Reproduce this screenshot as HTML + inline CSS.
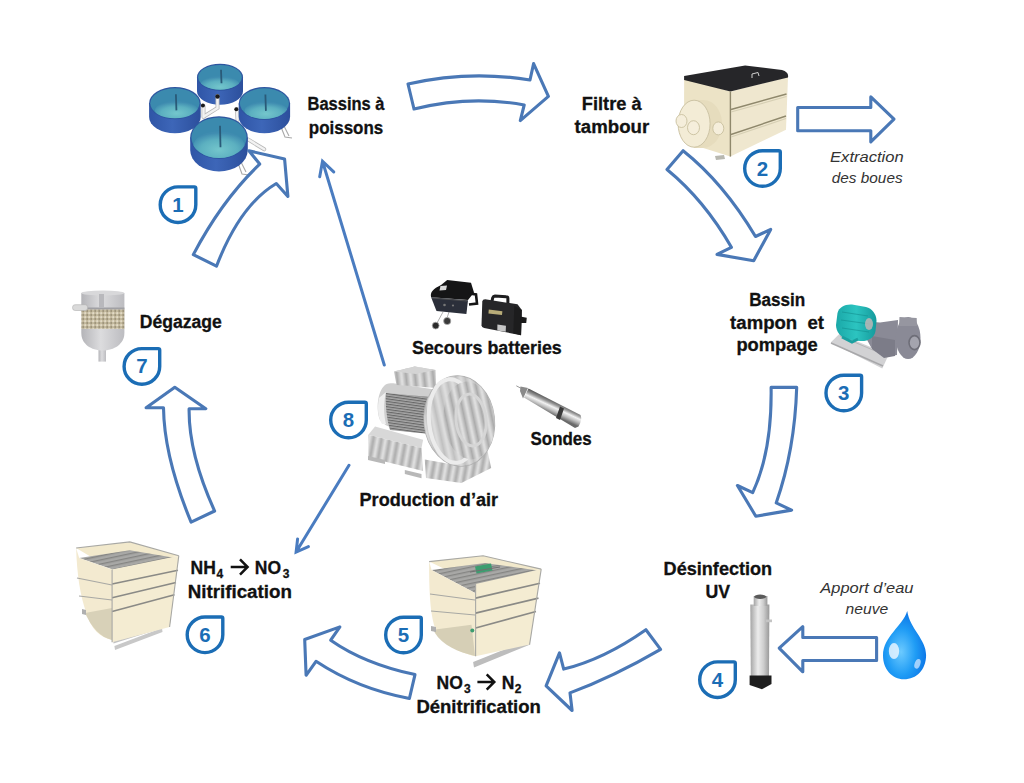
<!DOCTYPE html>
<html><head><meta charset="utf-8">
<style>
html,body{margin:0;padding:0;background:#fff;width:1024px;height:783px;overflow:hidden}
svg{position:absolute;left:0;top:0;display:block}
.t{font-family:"Liberation Sans",sans-serif;font-weight:bold;font-size:17.5px;fill:#111;stroke:#111;stroke-width:0.3px}
.it{font-family:"Liberation Sans",sans-serif;font-style:italic;font-size:14.5px;fill:#333}
.bn{font-family:"Liberation Sans",sans-serif;font-weight:bold;font-size:20.5px;fill:#1b6db5}
.ar{fill:#fff;stroke:#4a78b6;stroke-width:3.1;stroke-linejoin:round}
.bd{fill:none;stroke:#1b6db5;stroke-width:3.4}
</style></head><body>
<svg width="1024" height="783" viewBox="0 0 1024 783">
<defs>
<linearGradient id="tb" x1="0" x2="1" y1="0" y2="0"><stop offset="0" stop-color="#2f55a6"/><stop offset="0.45" stop-color="#3d66b8"/><stop offset="1" stop-color="#2c4f9c"/></linearGradient>
<radialGradient id="tw" cx="0.5" cy="0.65" r="0.6"><stop offset="0" stop-color="#74c6cc"/><stop offset="0.6" stop-color="#5cb0c0"/><stop offset="1" stop-color="#3f8cb0"/></radialGradient>
<radialGradient id="drop" cx="0.42" cy="0.6" r="0.62"><stop offset="0" stop-color="#6ccaff"/><stop offset="0.55" stop-color="#1f9cf5"/><stop offset="1" stop-color="#0a72e6"/></radialGradient>
<linearGradient id="uv" x1="0" x2="1"><stop offset="0" stop-color="#a4a4a4"/><stop offset="0.4" stop-color="#ececec"/><stop offset="0.7" stop-color="#cdcdcd"/><stop offset="1" stop-color="#989898"/></linearGradient>
<linearGradient id="probe" gradientUnits="userSpaceOnUse" x1="557" y1="401" x2="551" y2="414"><stop offset="0" stop-color="#454545"/><stop offset="0.3" stop-color="#9a9a9a"/><stop offset="0.5" stop-color="#f2f2f2"/><stop offset="0.75" stop-color="#b8b8b8"/><stop offset="1" stop-color="#6a6a6a"/></linearGradient>
<linearGradient id="teal" x1="0" x2="1"><stop offset="0" stop-color="#1aa8a8"/><stop offset="0.5" stop-color="#2cc4c0"/><stop offset="1" stop-color="#159a9c"/></linearGradient>
</defs>

<!-- FISH TANKS -->
<g id="tanks">
<clipPath id="c1"><ellipse cx="220" cy="77.2" rx="22" ry="12.5"/></clipPath>
<path d="M197.0,77.2 L197.0,91.2 A23,13.5 0 0 0 243.0,91.2 L243.0,77.2 Z" fill="url(#tb)"/>
<ellipse cx="220" cy="77.2" rx="23" ry="13.5" fill="#2e55a0"/>
<ellipse cx="220" cy="77.2" rx="21.8" ry="12.3" fill="#3b8aae"/>
<ellipse clip-path="url(#c1)" cx="220" cy="84.5" rx="19.5" ry="8.2" fill="url(#tw)"/>
<path d="M221.0,69.8 L221.5,83.3" stroke="#2a5a78" stroke-width="1.8"/>
<g stroke="#b8b8b8" stroke-width="4" fill="none" stroke-linecap="round">
<path d="M217.5,96 L217.5,108 L204.7,116"/><path d="M203.5,106 L203.5,117"/><path d="M237,109 L237.5,120"/><path d="M248.4,139.6 L264.2,149.3"/>
</g>
<g stroke="#f2f2f2" stroke-width="2.4" fill="none" stroke-linecap="round">
<path d="M217.5,96 L217.5,108 L204.7,116"/><path d="M203.5,106 L203.5,117"/><path d="M237,109 L237.5,120"/><path d="M248.4,139.6 L264.2,149.3"/>
</g>
<g stroke="#a8a8a8" stroke-width="1.1" fill="none"><path d="M281,127 L285,137 L292,138 M284,126 L289,136"/><path d="M238,163 L242,174 L249,175 M241,162 L246,172"/></g>
<g fill="#1a1a1a"><circle cx="217.5" cy="96.5" r="2.2"/><circle cx="202.9" cy="105.6" r="2"/><circle cx="236.3" cy="109.3" r="2"/></g>
<clipPath id="c2"><ellipse cx="174.9" cy="103.2" rx="24.8" ry="15.100000000000001"/></clipPath>
<path d="M149.1,103.2 L149.1,117.1 A25.8,16.1 0 0 0 200.7,117.1 L200.7,103.2 Z" fill="url(#tb)"/>
<ellipse cx="174.9" cy="103.2" rx="25.8" ry="16.1" fill="#2e55a0"/>
<ellipse cx="174.9" cy="103.2" rx="24.6" ry="14.9" fill="#3b8aae"/>
<ellipse clip-path="url(#c2)" cx="176.5" cy="110.5" rx="21.5" ry="9.5" fill="url(#tw)"/>
<path d="M175.9,94.3 L176.4,110.4" stroke="#2a5a78" stroke-width="1.8"/>
<clipPath id="c3"><ellipse cx="264.4" cy="103.5" rx="24.7" ry="15.399999999999999"/></clipPath>
<path d="M238.7,103.5 L238.7,116.8 A25.7,16.4 0 0 0 290.1,116.8 L290.1,103.5 Z" fill="url(#tb)"/>
<ellipse cx="264.4" cy="103.5" rx="25.7" ry="16.4" fill="#2e55a0"/>
<ellipse cx="264.4" cy="103.5" rx="24.5" ry="15.2" fill="#3b8aae"/>
<ellipse clip-path="url(#c3)" cx="266" cy="111" rx="21.5" ry="9.5" fill="url(#tw)"/>
<path d="M265.4,94.5 L265.9,110.9" stroke="#2a5a78" stroke-width="1.8"/>
<clipPath id="c4"><ellipse cx="219" cy="137.6" rx="27.8" ry="20.4"/></clipPath>
<path d="M190.2,137.6 L190.2,150.1 A28.8,21.4 0 0 0 247.8,150.1 L247.8,137.6 Z" fill="url(#tb)"/>
<ellipse cx="219" cy="137.6" rx="28.8" ry="21.4" fill="#2e55a0"/>
<ellipse cx="219" cy="137.6" rx="27.6" ry="20.2" fill="#3b8aae"/>
<ellipse clip-path="url(#c4)" cx="219" cy="145.5" rx="25.5" ry="14" fill="url(#tw)"/>
<path d="M220.0,125.8 L220.5,147.2" stroke="#2a5a78" stroke-width="1.8"/>
</g>
<!-- DRUM FILTER -->
<g id="drum">
<path d="M684.1,78 L730.4,91.5 L730.4,156.6 L700,147 L684.1,138 Z" fill="#ece3c6"/>
<path d="M730.4,91.5 L788,77 L786,129.7 L730.4,156.6 Z" fill="#efe7cf"/>
<path d="M684.1,76.1 L745.1,65.4 L782,70 Q789,72 788,77.4 L730.4,91.5 L684.1,80.1 Z" fill="#262629"/>
<path d="M752,78 L752,74 L758,72.5 L759,76" stroke="#cfcfcf" stroke-width="1" fill="none"/>
<g stroke="#8f886c" stroke-width="1.4" fill="none"><path d="M731,109.5 L786.5,94"/><path d="M731,134.5 L786,116"/><path d="M730.4,91.5 L730.4,156.6"/></g>
<g stroke="#d6cfb4" stroke-width="1.2" fill="none"><path d="M731,112 L786.5,96.5"/><path d="M731,137 L786,118.5"/></g>
<path d="M715,156 L724,155 L725,159 L716,160 Z" fill="#b8b8b0"/>
<path d="M694,100 L703,100 C715,100 722,112 722,124 C722,137 713,148 703,148 L694,148 Z" fill="#e6dcbd"/>
<ellipse cx="694.1" cy="123.7" rx="16" ry="23.5" fill="#f3ecd6" stroke="#cdc4a5" stroke-width="1"/>
<g fill="#f5eedb" stroke="#c8bf9e" stroke-width="0.9"><ellipse cx="681.5" cy="121" rx="5.5" ry="6.5"/><ellipse cx="693.5" cy="127.7" rx="6" ry="7"/><ellipse cx="718.3" cy="128.4" rx="5.5" ry="6.5"/></g>
</g>
<!-- PUMP -->
<g id="pump">
<path d="M830.7,342.6 L839.3,334 L888.8,354.5 L882.3,368.4 Z" fill="#d2d2d4"/>
<path d="M831,343 L883,366" stroke="#a8a8aa" stroke-width="1.5"/>
<path d="M840,336 L887,356" stroke="#b5b5b8" stroke-width="1"/>
<path d="M866,321.5 L880,322.5 L898,320 L897,355 L884,357 L871.5,348 L866,338 Z" fill="#8a8a96"/><path d="M872,336 L895,340 L895,356 L884,358 L872,349 Z" fill="#7c7c88"/>
<ellipse cx="908.1" cy="338" rx="12.4" ry="21" fill="#8a8a96"/>
<path d="M899.5,316.9 L916.7,318 L917,326 L899,326 Z" fill="#9696a0"/>
<ellipse cx="914.5" cy="342.6" rx="5.5" ry="7" fill="#a4a4ae" stroke="#6e6e78" stroke-width="1.6"/>
<path d="M837.5,313 C839,307 845,304 852,304.5 L866,307 C872,308.5 876.5,314 876.5,321 L875.5,331 C874.5,338 868,341.5 860,341 L848,339.5 C841,338 836,332 836,325 Z" fill="url(#teal)"/><path d="M842,312 L868,316 M841,320 L870,324 M842,328 L869,332" stroke="#139090" stroke-width="1" opacity="0.6"/>
<ellipse cx="869" cy="324" rx="4" ry="6" fill="#c8b8b8" opacity="0.8"/>
<path d="M842,337 L852,342 L858,339" stroke="#1aa0a0" stroke-width="3" fill="none"/>
</g>
<!-- UV LAMP -->
<g id="uvlamp">
<path d="M750.3,604.4 L769.4,604.4 L769,677 L750.8,677 Z" fill="url(#uv)"/>
<rect x="753.7" y="596" width="13.7" height="10" fill="url(#uv)"/>
<ellipse cx="760.2" cy="596.8" rx="6" ry="2.2" fill="#5a5a5a"/>
<path d="M749.6,675.5 L771.5,675.5 L771.5,684 L762,689.2 L749.6,685 Z" fill="#1e1e1e"/>
<rect x="766" y="619.5" width="6" height="2.7" fill="#c4c4c4"/>
</g>

<!-- WATER DROP -->
<path id="drop" d="M907.2,610.9 C903,626 883,636 883,655.5 C883,669 892,679.3 904,679.3 C916.5,679.3 926.1,670 926.1,655 C926.1,639 910,629 907.2,610.9 Z" fill="url(#drop)"/>
<ellipse cx="894" cy="651.1" rx="5.2" ry="8" fill="#e8f4ff" opacity="0.85"/>
<ellipse cx="917.5" cy="663.8" rx="2.8" ry="5" transform="rotate(20 917.5 663.8)" fill="#cfe6ff" opacity="0.75"/>

<!-- DENITRIFICATION TANK -->
<pattern id="grate" width="4" height="4" patternUnits="userSpaceOnUse" patternTransform="rotate(-12)"><rect width="4" height="4" fill="#a8a8a6"/><rect width="4" height="1.3" fill="#858583"/></pattern>
<g id="denit">
<path d="M473.1,662 L528,640 L529,645 L474,667.5 Z" fill="#bdbdbd"/><path d="M527.5,570 L530.5,570 L530,645 L527,645 Z" fill="#c4c4c4"/>
<path d="M429.1,561.6 L483.1,555.8 L541.2,569.1 L475.6,584 Z" fill="#f2e9cc"/>
<path d="M431.6,569.9 L484.8,563 L537.9,570.5 L475.6,593.2 Z" fill="url(#grate)"/>
<path d="M475,566.5 L491,563.5 L492.5,570.5 L476.5,573.5 Z" fill="#3d9d70"/><path d="M470,572 L500,567" stroke="#707070" stroke-width="1"/>
<path d="M429.1,561.6 L431.6,569.9 L475.6,593.2 L475.6,656.3 C455,652 440,640 434,625 C430,610 429,590 429.1,561.6 Z" fill="#f3ead0"/>
<path d="M433.3,629.7 L471.5,624.7 L475,656 C458,652 442,645 435,633 Z" fill="#d6cfb6"/>
<path d="M475.6,584 L541.2,569.1 L529.6,644.6 L475.6,656.3 Z" fill="#f4ecd2"/>
<g stroke="#8a8a86" stroke-width="1.6" fill="none"><path d="M475.6,598.1 L540,583.2"/><path d="M475.6,613.1 L538.5,598.1"/><path d="M475.6,628 L536,611.4"/></g>
<g stroke="#a8a8a4" stroke-width="1.1" fill="none"><path d="M475.6,584 L475.6,656.3"/><path d="M541.2,569.1 L529.6,644.6"/><path d="M429.1,561.6 L483.1,555.8 L541.2,569.1"/><path d="M430,594 L475,600"/><path d="M431,611 L475,615"/></g>
<path d="M431,626 L436,627 L436,632 L431,631 Z" fill="#b0b0b0"/>
<circle cx="472.3" cy="630.5" r="2" fill="#3d9d70"/>
</g>

<!-- NITRIFICATION TANK -->
<g id="nit">
<path d="M112.9,638.5 L169.6,620.5 L170,625.5 L113.5,643.5 Z" fill="#c2c2c2"/>
<path d="M114.4,646 L162,628 L162.5,632 L115,650 Z" fill="#c8c8c8"/>
<path d="M76.1,548 L129.8,541.9 L178.8,555.7 L112.1,569.5 Z" fill="#f2e9cc"/>
<path d="M79.2,558 L129.8,550.3 L175.7,558 L112.9,569.5 Z" fill="url(#grate)"/>
<path d="M76.1,548 L79.2,558 L112.1,569.5 L112.1,640 C100,637 92,630 87,615 C80,595 77,575 76.1,548 Z" fill="#f3ead0"/>
<path d="M85,613 L112,608 L112,640 C100,637 92,628 85,613 Z" fill="#d8d1b8"/>
<path d="M112.1,569.5 L178.8,555.7 L169.6,627 L112.1,642.3 Z" fill="#f4ecd2"/>
<g stroke="#8a8a86" stroke-width="1.6" fill="none"><path d="M112.1,584 L178,570.2"/><path d="M112.1,597.8 L176,582.5"/><path d="M112.1,611.6 L174.5,594.8"/></g>
<g stroke="#a8a8a4" stroke-width="1.1" fill="none"><path d="M112.1,569.5 L112.1,642.3"/><path d="M178.8,555.7 L169.6,627"/><path d="M76.1,548 L129.8,541.9 L178.8,555.7"/><path d="M77,578 L112,585"/><path d="M79,596 L112,600"/></g>
<path d="M82,609 L86,610 L86,615 L82,614 Z" fill="#b0b0b0"/>
</g>

<!-- DEGAZAGE -->
<g id="degaz">
<linearGradient id="dgz" x1="0" x2="1"><stop offset="0" stop-color="#b4b4b8"/><stop offset="0.45" stop-color="#dcdcde"/><stop offset="1" stop-color="#bcbcc0"/></linearGradient>
<pattern id="media" width="4" height="4" patternUnits="userSpaceOnUse"><rect width="4" height="4" fill="#c2b89c"/><circle cx="1.2" cy="1.2" r="1.1" fill="#e2dac6"/><circle cx="3.2" cy="3" r="0.9" fill="#978d76"/></pattern>
<rect x="98.5" y="347" width="7.5" height="14.6" fill="url(#dgz)"/>
<path d="M81.3,293 L124.4,293 L124.4,333 C124.4,344 114,350.5 102.8,350.5 C91,350.5 81.3,344 81.3,333 Z" fill="url(#dgz)"/>
<ellipse cx="102.8" cy="293" rx="21.5" ry="2.5" fill="#d8d8da"/>
<rect x="81.3" y="308.7" width="43.1" height="20.2" fill="url(#media)"/>
<rect x="81.3" y="307.5" width="43.1" height="2" fill="#a0a0a4"/>
<rect x="72.6" y="304.7" width="15" height="5.8" rx="2.5" fill="#dadada" stroke="#b0b0b0" stroke-width="0.6"/>
<rect x="99" y="294" width="5" height="14" fill="#b8b8bc"/>
</g>

<!-- BLOWER -->
<g id="blower">
<linearGradient id="bandg" x1="0" x2="1"><stop offset="0" stop-color="#e4e4e4"/><stop offset="0.5" stop-color="#ababab"/><stop offset="1" stop-color="#e4e4e4"/></linearGradient>
<pattern id="vs" width="8" height="8" patternUnits="userSpaceOnUse" patternTransform="rotate(10)"><rect width="8" height="8" fill="url(#bandg)"/></pattern>
<pattern id="vs2" width="9" height="9" patternUnits="userSpaceOnUse" patternTransform="rotate(-6)"><rect width="9" height="9" fill="url(#bandg)"/></pattern>
<pattern id="hs" width="3" height="2.6" patternUnits="userSpaceOnUse" patternTransform="rotate(8)"><rect width="3" height="2.6" fill="#a6a6a6"/><rect width="3" height="1.1" fill="#686868"/></pattern>
<!-- right base -->
<path d="M459.6,449.7 L486.2,444.7 L491.2,468 L461.3,483 Z" fill="url(#vs)"/>
<path d="M424.8,459.6 L461,466 L461.3,483 L426,478 Z" fill="url(#vs)"/>
<!-- motor -->
<path d="M393.2,383.3 L438,390 L440,436 L423,433 C400,432 386,428 380,420 C376,410 377,392 385,385 C387,383.5 390,383.3 393.2,383.3 Z" fill="#cfcfcf"/>
<path d="M379,398 C377,408 378,418 382,424 L386,424 C384,416 383,404 386,392 Z" fill="#efefef"/>
<path d="M386,393 L430,397 L430,434 L390,430 C387,420 385,405 386,393 Z" fill="url(#hs)"/>
<!-- terminal box -->
<path d="M394,371.6 L414.8,366.6 L435.6,370 L436,388 L396.5,385 Z" fill="url(#vs2)"/>
<path d="M394,371.6 L414.8,366.6 L435.6,370 L416,374 Z" fill="#d4d4d4"/>
<!-- disc -->
<ellipse cx="459.3" cy="421" rx="35.3" ry="45.3" transform="rotate(-6 459.3 421)" fill="#dadada" stroke="#b0b0b0" stroke-width="1"/>
<ellipse cx="459.3" cy="421" rx="35.3" ry="45.3" transform="rotate(-6 459.3 421)" fill="url(#vs2)" opacity="0.55"/><ellipse cx="453" cy="421" rx="24" ry="42" transform="rotate(-6 453 421)" fill="none" stroke="#ececec" stroke-width="4"/>
<ellipse cx="469" cy="420.5" rx="25.5" ry="39" transform="rotate(-6 469 420.5)" fill="url(#vs2)"/>
<ellipse cx="471" cy="420" rx="15" ry="26" transform="rotate(-6 471 420)" fill="none" stroke="#d6d6d6" stroke-width="3"/>
<!-- left base -->
<path d="M368.3,434.7 L375,426.4 L423.1,439.7 L421.5,448 Z" fill="#d8d8d8"/>
<path d="M368.3,434.7 L421.5,448 L423.1,471 L368.3,457.5 Z" fill="url(#vs)"/>
<path d="M368,456 L385,460 L385,464 L368,460 Z" fill="#b8b8b8"/>
<path d="M404.8,470 L421.5,474 L421.5,478.3 L404.8,474 Z" fill="#b8b8b8"/>
</g>

<!-- BATTERIES -->
<g id="batt">
<g stroke="#9a9a9a" stroke-width="0.8" fill="none"><path d="M443,312 L437,323"/><path d="M449,312 L447,318"/></g>
<path d="M441.1,285 L447.2,280 L471,282.7 L474,292.6 L468,300 L431.1,297.2 C430,292 433,289 441.1,285 Z" fill="#151516"/>
<path d="M431.1,297.2 L468,300.3 L466.4,314.1 L436.5,311 Z" fill="#2b2f3a"/>
<path d="M440.5,286 L447,285.5 L446,290 L439.5,290.5 Z" fill="#d8d8d8"/>
<path d="M432,298 L467,301" stroke="#555" stroke-width="0.8"/>
<path d="M469,293.5 L476,294.5 L477,303.5 L469,304.5" stroke="#151516" stroke-width="2.6" fill="none"/>
<circle cx="444.5" cy="305" r="1.3" fill="#777"/><circle cx="453" cy="305.5" r="1.1" fill="#777"/>
<circle cx="435.7" cy="325.6" r="3.4" fill="#2a2a2a" stroke="#aaa" stroke-width="0.8"/>
<circle cx="447.2" cy="321" r="3.6" fill="#3a3a3a" stroke="#aaa" stroke-width="0.8"/>
<g transform="matrix(1.08,0,0,1.08,-38.6,-22.5)">
<path d="M490.5,303 L492,296.5 Q492.5,295 494,295 L504.5,295.5 Q506,295.5 506,297 L506,303" stroke="#1e1e1f" stroke-width="2.8" fill="none"/>
<path d="M482.3,300 Q482.5,298 485,298 L514.9,302.6 L518.9,307.9 L518.2,331.2 L484,324.5 Q481.6,324 481.6,322 Z" fill="#262628"/>
<path d="M512,304 L518.9,307.9 L518.2,331.2 L511,329.5 Z" fill="#1c1c1d"/>
<path d="M517.5,314 L523.5,315 L523,320 L517.5,320 Z" fill="#1a1a1a"/>
<path d="M488.3,307.3 L500.9,309 L500.5,312.6 L488,311 Z" fill="#b8ac78"/>
<path d="M496.3,321.2 L504.2,322.5 L504,327.9 L496.2,326.8 Z" fill="#c6c6c6"/>
</g>
</g>

<!-- PROBE -->
<g id="probe">
<path d="M516.3,385.8 L522,388.8" stroke="#9a9a9a" stroke-width="1"/>
<path d="M520.5,386.5 L528,388 L523,398.5 L520,391 Z" fill="#8a8a8a"/>
<path d="M528.5,388.5 L580.5,415 Q582.5,420 578.5,426.5 L575,428 L524,397.5 Z" fill="url(#probe)"/>
<path d="M560,406.5 L564,408.5 L560,420 L556,418 Z" fill="#3a3a3a"/>
</g>

<!-- BIG ARROWS -->
<path class="ar" d="M408,84 Q469,70 530,80 L533.6,63.6 L548.4,96.4 L520.3,120.6 L524.2,105 Q470,95 414,109 Z"/>
<path class="ar" d="M193.3,254.6 Q222,200 259.7,164.1 L248.9,150.8 L284.6,159.1 L287.9,196.5 L276.3,183.5 Q240,205 216.5,266.2 Z"/>
<path class="ar" d="M683.1,150.7 Q723.7,183 755.5,236.5 L770.7,229.4 L753.7,260.7 L717,254.4 L731.4,247.3 Q704.6,200.4 667,169.5 Z"/>
<path class="ar" d="M797.7,107.5 L870.8,107.5 L870.8,96.9 L894,119.1 L870.8,141.9 L870.8,130.7 L797.7,130.7 Z"/>
<path class="ar" d="M771.1,387.4 L796.7,387.4 Q794.75,450.25 776.2,502.9 L791.6,510.1 L755.8,516.2 L737.4,485.5 L752.7,492.7 Q772.1,451.35 771.1,387.4 Z"/>
<path class="ar" d="M645.9,629.7 L660.6,649.4 Q613.3,676.85 570,692.9 L572.1,710.5 L546.1,685.9 L559.5,652.9 L563.7,669.1 Q604,659.2 645.9,629.7 Z"/>
<path class="ar" d="M415,674.6 Q364.35,663.8 330.7,640.2 L339.9,626.9 L304.7,639.5 L306.1,675.3 L316,661.3 Q357.7,688.9 409.4,698.5 Z"/>
<path class="ar" d="M174.8,387.3 L205.8,408.7 L189.1,408.7 Q188.55,453.75 214.6,511 L191.1,522.2 Q164.1,456.85 163.5,407.7 L146.1,407.7 Z"/>
<path class="ar" d="M779.2,648.2 L802.8,626.7 L802.8,637.5 L876.6,637.5 L876.6,660.5 L802.8,660.5 L802.8,671.8 Z"/>

<!-- THIN ARROWS -->
<g stroke="#4a7cc0" stroke-width="3" fill="none" stroke-linecap="round">
<path d="M384.3,365 L322.5,161.2 M319.7,176.7 L322.5,161.2 L333.7,171.9"/>
<path d="M349,465.3 L296.1,552 M297.6,538.9 L296.1,552 L308.4,546.6"/>
</g>


<g id="badges">
<path class="bd" d="M195.8,188.4 L195.8,204.7 A17.8,17.8 0 0 1 178.0,222.5 A17.8,17.8 0 0 1 160.2,204.7 A17.8,17.8 0 0 1 178.0,186.9 L194.3,186.9 Q195.8,186.9 195.8,188.4 Z"/>
<text class="bn" x="178.0" y="211.7" text-anchor="middle">1</text>
<path class="bd" d="M780.3,152.2 L780.3,168.5 A17.8,17.8 0 0 1 762.5,186.3 A17.8,17.8 0 0 1 744.7,168.5 A17.8,17.8 0 0 1 762.5,150.7 L778.8,150.7 Q780.3,150.7 780.3,152.2 Z"/>
<text class="bn" x="762.5" y="175.5" text-anchor="middle">2</text>
<path class="bd" d="M861.6,376.7 L861.6,393.0 A17.8,17.8 0 0 1 843.8,410.8 A17.8,17.8 0 0 1 826.0,393.0 A17.8,17.8 0 0 1 843.8,375.2 L860.1,375.2 Q861.6,375.2 861.6,376.7 Z"/>
<text class="bn" x="843.8" y="400.0" text-anchor="middle">3</text>
<path class="bd" d="M735.3,663.4 L735.3,679.7 A17.8,17.8 0 0 1 717.5,697.5 A17.8,17.8 0 0 1 699.7,679.7 A17.8,17.8 0 0 1 717.5,661.9 L733.8,661.9 Q735.3,661.9 735.3,663.4 Z"/>
<text class="bn" x="717.5" y="686.7" text-anchor="middle">4</text>
<path class="bd" d="M421.3,618.7 L421.3,635.0 A17.8,17.8 0 0 1 403.5,652.8 A17.8,17.8 0 0 1 385.7,635.0 A17.8,17.8 0 0 1 403.5,617.2 L419.8,617.2 Q421.3,617.2 421.3,618.7 Z"/>
<text class="bn" x="403.5" y="642.0" text-anchor="middle">5</text>
<path class="bd" d="M222.8,618.5 L222.8,634.8 A17.8,17.8 0 0 1 205.0,652.6 A17.8,17.8 0 0 1 187.2,634.8 A17.8,17.8 0 0 1 205.0,617.0 L221.3,617.0 Q222.8,617.0 222.8,618.5 Z"/>
<text class="bn" x="205.0" y="641.8" text-anchor="middle">6</text>
<path class="bd" d="M159.7,350.1 L159.7,366.4 A17.8,17.8 0 0 1 141.9,384.2 A17.8,17.8 0 0 1 124.1,366.4 A17.8,17.8 0 0 1 141.9,348.6 L158.2,348.6 Q159.7,348.6 159.7,350.1 Z"/>
<text class="bn" x="141.9" y="373.4" text-anchor="middle">7</text>
<path class="bd" d="M366.3,403.7 L366.3,420.0 A17.8,17.8 0 0 1 348.5,437.8 A17.8,17.8 0 0 1 330.7,420.0 A17.8,17.8 0 0 1 348.5,402.2 L364.8,402.2 Q366.3,402.2 366.3,403.7 Z"/>
<text class="bn" x="348.5" y="427.0" text-anchor="middle">8</text>
</g>

<g class="t">
<text x="190.5" y="574.4">NH</text><text x="216.5" y="578" style="font-size:12px">4</text>
<text x="254.8" y="574.4">NO</text><text x="282.8" y="578" style="font-size:12px">3</text>
<text x="436.5" y="689.4">NO</text><text x="464" y="693" style="font-size:12px">3</text>
<text x="501.8" y="689.4">N</text><text x="514.8" y="693" style="font-size:12px">2</text>
</g>
<g stroke="#111" stroke-width="2.5" fill="none">
<path d="M230.7,567 L247,567 M240,559.3 L247.6,567 L240,574.7"/>
<path d="M477.4,682 L493.7,682 M486.7,674.3 L494.3,682 L486.7,689.7"/>
</g>


<text id="tx0" class="t" x="346.0" y="110.4" text-anchor="middle" xml:space="preserve" textLength="76.98" lengthAdjust="spacingAndGlyphs">Bassins à</text>
<text id="tx1" class="t" x="346.0" y="133.8" text-anchor="middle" xml:space="preserve" textLength="74.34" lengthAdjust="spacingAndGlyphs">poissons</text>
<text id="tx2" class="t" x="611.7" y="110.4" text-anchor="middle" xml:space="preserve" textLength="59.69" lengthAdjust="spacingAndGlyphs">Filtre à</text>
<text id="tx3" class="t" x="611.9" y="133.3" text-anchor="middle" xml:space="preserve" textLength="74.54" lengthAdjust="spacingAndGlyphs">tambour</text>
<text id="tx4" class="t" x="777.2" y="305.9" text-anchor="middle" xml:space="preserve" textLength="56.15" lengthAdjust="spacingAndGlyphs">Bassin</text>
<text id="tx5" class="t" x="777.1" y="328.9" text-anchor="middle" xml:space="preserve" textLength="93.92" lengthAdjust="spacingAndGlyphs">tampon  et</text>
<text id="tx6" class="t" x="777.1" y="350.6" text-anchor="middle" xml:space="preserve" textLength="81.32" lengthAdjust="spacingAndGlyphs">pompage</text>
<text id="tx7" class="t" x="717.9" y="575.1" text-anchor="middle" xml:space="preserve" textLength="108.53" lengthAdjust="spacingAndGlyphs">Désinfection</text>
<text id="tx8" class="t" x="717.8" y="597.5" text-anchor="middle" xml:space="preserve" textLength="24.57" lengthAdjust="spacingAndGlyphs">UV</text>
<text id="tx9" class="t" x="478.6" y="712.6" text-anchor="middle" xml:space="preserve" textLength="124.41" lengthAdjust="spacingAndGlyphs">Dénitrification</text>
<text id="tx10" class="t" x="239.8" y="597.5" text-anchor="middle" xml:space="preserve" textLength="104.27" lengthAdjust="spacingAndGlyphs">Nitrification</text>
<text id="tx11" class="t" x="180.8" y="328" text-anchor="middle" xml:space="preserve" textLength="81.91" lengthAdjust="spacingAndGlyphs">Dégazage</text>
<text id="tx12" class="t" x="486.9" y="354.4" text-anchor="middle" xml:space="preserve" textLength="149.73" lengthAdjust="spacingAndGlyphs">Secours batteries</text>
<text id="tx13" class="t" x="561.1" y="445.2" text-anchor="middle" xml:space="preserve" textLength="61.15" lengthAdjust="spacingAndGlyphs">Sondes</text>
<text id="tx14" class="t" x="428.8" y="506" text-anchor="middle" xml:space="preserve" textLength="138.46" lengthAdjust="spacingAndGlyphs">Production d’air</text>
<text id="tx15" class="it" x="866.9" y="162.3" text-anchor="middle" xml:space="preserve" textLength="73.64" lengthAdjust="spacingAndGlyphs">Extraction</text>
<text id="tx16" class="it" x="867.2" y="183.4" text-anchor="middle" xml:space="preserve" textLength="70.84" lengthAdjust="spacingAndGlyphs">des boues</text>
<text id="tx17" class="it" x="866.9" y="592.8" text-anchor="middle" xml:space="preserve" textLength="93.20" lengthAdjust="spacingAndGlyphs">Apport d’eau</text>
<text id="tx18" class="it" x="866.9" y="614.3" text-anchor="middle" xml:space="preserve" textLength="42.64" lengthAdjust="spacingAndGlyphs">neuve</text>
</svg>
</body></html>
